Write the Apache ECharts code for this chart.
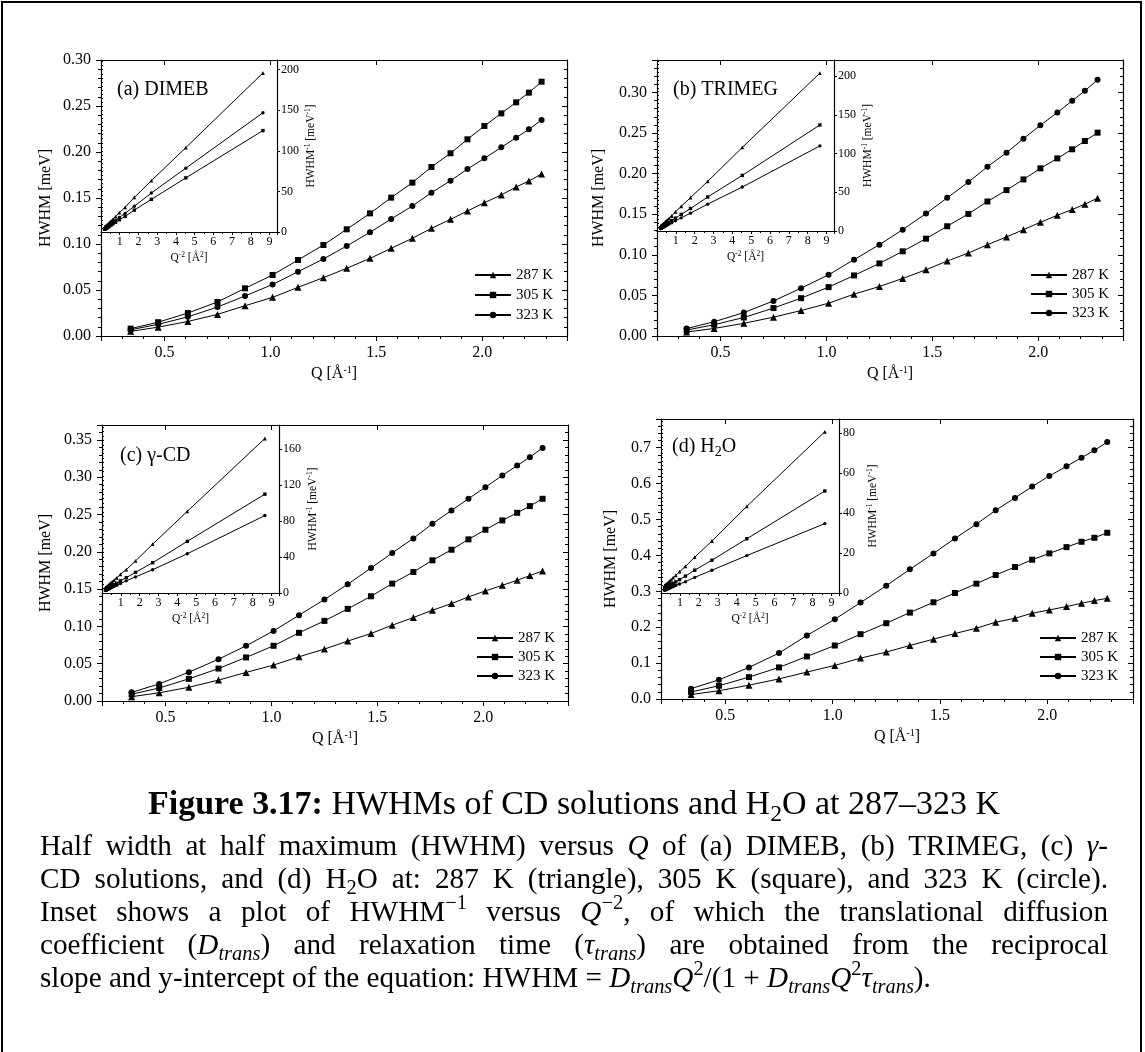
<!DOCTYPE html>
<html><head><meta charset="utf-8">
<script src="https://cdn.jsdelivr.net/npm/echarts@6/dist/echarts.min.js"></script>
<style>html,body{margin:0;padding:0;background:#fff}#c{width:1145px;height:1052px}</style>
</head><body><div id="c"></div>
<script>
// ---------------- DATA ----------------
const Q = [0.34,0.47,0.61,0.75,0.88,1.01,1.13,1.25,1.36,1.47,1.57,1.67,1.76,1.85,1.93,2.01,2.09,2.16,2.22,2.28];
const Q_INV2 = [8.65,4.53,2.69,1.78,1.29,0.98,0.78,0.64,0.54,0.46,0.41,0.36,0.32,0.29,0.27,0.25,0.23,0.21,0.20,0.19];
const SERIES_NAMES = ['287 K','305 K','323 K'];

// (a) DIMEB  HWHM [meV]
const A287 = [0.0051,0.0096,0.0158,0.0235,0.0329,0.0420,0.0529,0.0634,0.0736,0.0844,0.0953,0.1062,0.1170,0.1268,0.1359,0.1449,0.1533,0.1620,0.1685,0.1761];
const A305 = [0.0080,0.0150,0.0249,0.0370,0.0518,0.0663,0.0826,0.0989,0.1160,0.1333,0.1504,0.1667,0.1837,0.1986,0.2138,0.2283,0.2420,0.2540,0.2645,0.2764];
const A323 = [0.0068,0.0127,0.0208,0.0315,0.0435,0.0560,0.0699,0.0837,0.0978,0.1127,0.1272,0.1413,0.1558,0.1688,0.1815,0.1931,0.2051,0.2156,0.2246,0.2348];
// (a) inset HWHM^-1 [meV^-1]
const A287_INV = [196,104,63.3,42.6,30.4,23.8,18.9,15.8,13.6,11.8,10.5,9.42,8.55,7.89,7.36,6.90,6.52,6.17,5.93,5.68];
const A305_INV = [125,66.7,40.2,27.0,19.3,15.1,12.1,10.1,8.62,7.50,6.65,6.00,5.44,5.04,4.68,4.38,4.13,3.94,3.78,3.62];
const A323_INV = [147,78.7,48.1,31.7,23.0,17.9,14.3,11.9,10.2,8.87,7.86,7.08,6.42,5.92,5.51,5.18,4.88,4.64,4.45,4.26];

// (b) TRIMEG
const B287 = [0.0049,0.0093,0.0156,0.0232,0.0313,0.0404,0.0515,0.0610,0.0709,0.0816,0.0923,0.1022,0.1125,0.1220,0.1310,0.1401,0.1487,0.1558,0.1624,0.1698];
const B305 = [0.0073,0.0139,0.0228,0.0344,0.0466,0.0602,0.0746,0.0894,0.1043,0.1199,0.1352,0.1504,0.1657,0.1797,0.1929,0.2065,0.2188,0.2300,0.2402,0.2505];
const B323 = [0.0091,0.0176,0.0288,0.0432,0.0589,0.0754,0.0940,0.1125,0.1310,0.1508,0.1702,0.1896,0.2085,0.2258,0.2431,0.2596,0.2753,0.2897,0.3020,0.3157];
const B287_INV = [204,108,64.1,43.1,31.9,24.8,19.4,16.4,14.1,12.3,10.8,9.78,8.89,8.20,7.63,7.14,6.72,6.42,6.16,5.89];
const B305_INV = [137,71.9,43.9,29.1,21.5,16.6,13.4,11.2,9.59,8.34,7.40,6.65,6.04,5.56,5.18,4.84,4.57,4.35,4.16,3.99];
const B323_INV = [110,56.8,34.7,23.1,17.0,13.3,10.6,8.89,7.63,6.63,5.88,5.27,4.80,4.43,4.11,3.85,3.63,3.45,3.31,3.17];

// (c) gamma-CD
const C287 = [0.0058,0.0110,0.0184,0.0280,0.0383,0.0482,0.0593,0.0696,0.0803,0.0905,0.1016,0.1119,0.1217,0.1306,0.1395,0.1476,0.1551,0.1618,0.1681,0.1743];
const C305 = [0.0091,0.0174,0.0297,0.0435,0.0584,0.0740,0.0914,0.1074,0.1235,0.1404,0.1574,0.1730,0.1886,0.2028,0.2167,0.2296,0.2421,0.2523,0.2613,0.2711];
const C323 = [0.0116,0.0229,0.0386,0.0560,0.0740,0.0940,0.1150,0.1360,0.1565,0.1783,0.1984,0.2180,0.2376,0.2555,0.2711,0.2867,0.3023,0.3157,0.3269,0.3393];
const C287_INV = [172,90.9,54.3,35.7,26.1,20.7,16.9,14.4,12.5,11.0,9.84,8.94,8.22,7.66,7.17,6.78,6.45,6.18,5.95,5.74];
const C305_INV = [110,57.5,33.7,23.0,17.1,13.5,10.9,9.31,8.10,7.12,6.35,5.78,5.30,4.93,4.61,4.36,4.13,3.96,3.83,3.69];
const C323_INV = [86.2,43.7,25.9,17.9,13.5,10.6,8.70,7.35,6.39,5.61,5.04,4.59,4.21,3.91,3.69,3.49,3.31,3.17,3.06,2.95];

// (d) H2O
const D287 = [0.0124,0.0231,0.0385,0.0560,0.0750,0.0935,0.1139,0.1306,0.1491,0.1667,0.1824,0.1972,0.2139,0.2250,0.2389,0.2481,0.2574,0.2667,0.2741,0.2806];
const D305 = [0.0196,0.0369,0.0610,0.0880,0.1185,0.1490,0.1806,0.2111,0.2407,0.2694,0.2954,0.3213,0.3454,0.3676,0.3880,0.4056,0.4231,0.4380,0.4491,0.4630];
const D323 = [0.0288,0.0534,0.0880,0.1280,0.1769,0.2222,0.2685,0.3157,0.3611,0.4056,0.4472,0.4870,0.5259,0.5602,0.5917,0.6213,0.6481,0.6722,0.6926,0.7157];
const D287_INV = [80.6,43.3,26.0,17.9,13.3,10.7,8.78,7.66,6.71,6.00,5.48,5.07,4.68,4.44,4.19,4.03,3.89,3.75,3.65,3.56];
const D305_INV = [51.0,27.1,16.4,11.4,8.44,6.71,5.54,4.74,4.15,3.71,3.39,3.11,2.90,2.72,2.58,2.47,2.36,2.28,2.23,2.16];
const D323_INV = [34.7,18.7,11.4,7.81,5.65,4.50,3.72,3.17,2.77,2.47,2.24,2.05,1.90,1.79,1.69,1.61,1.54,1.49,1.44,1.40];

// text
const PANEL_LABELS = ['(a) DIMEB','(b) TRIMEG','(c) γ-CD','(d) H{sub:2}O'];
const CAPTION_TITLE = '{b:Figure} {b:3.17:} HWHMs of CD solutions and H{sub:2}O at 287–323 K';
const CAPTION_LINES = [
  'Half width at half maximum (HWHM) versus {i:Q} of (a) DIMEB, (b) TRIMEG, (c) {i:γ}-',
  'CD solutions, and (d) H{sub:2}O at: 287 K (triangle), 305 K (square), and 323 K (circle).',
  'Inset shows a plot of HWHM{sup:−1} versus {i:Q}{sup:−2}, of which the translational diffusion',
  'coefficient ({i:D}{isub:trans}) and relaxation time ({i:τ}{isub:trans}) are obtained from the reciprocal',
  'slope and y-intercept of the equation: HWHM = {i:D}{isub:trans}{i:Q}{sup:2}/(1 + {i:D}{isub:trans}{i:Q}{sup:2}{i:τ}{isub:trans}).'
];

// ---------------- LAYOUT ----------------
const FF = '"Liberation Serif", "Times New Roman", serif';
const PANELS = [
  {l:101,t:60,w:466,h:276, yMax:0.30,yMaj:0.05,yMnr:0.01,yDec:2,yGap:47, iw:176,ih:172,iyMax:212,iyMaj:50,iyMnr:5,
   lgL:474,lgT:267,lgGap:4, lbX:117,lbY:90, main:[A287,A305,A323], inset:[A287_INV,A305_INV,A323_INV]},
  {l:657,t:60,w:466,h:276, yMax:0.34,yMaj:0.05,yMnr:0.01,yDec:2,yGap:50, iw:177,ih:171,iyMax:221,iyMaj:50,iyMnr:5,
   lgL:1030,lgT:267,lgGap:3, lbX:673,lbY:90, main:[B287,B305,B323], inset:[B287_INV,B305_INV,B323_INV]},
  {l:102,t:425,w:466,h:276, yMax:0.37,yMaj:0.05,yMnr:0.01,yDec:2,yGap:48, iw:177,ih:168,iyMax:187,iyMaj:40,iyMnr:5,
   lgL:476,lgT:630,lgGap:3, lbX:120,lbY:456, main:[C287,C305,C323], inset:[C287_INV,C305_INV,C323_INV]},
  {l:661,t:419,w:472,h:280, yMax:0.78,yMaj:0.1,yMnr:0.02,yDec:1,yGap:42, iw:178,ih:174,iyMax:87,iyMaj:20,iyMnr:2,
   lgL:1039,lgT:630,lgGap:3, lbX:672,lbY:447, main:[D287,D305,D323], inset:[D287_INV,D305_INV,D323_INV]}
];
const SYM = [['triangle',7,3.8],['rect',6,3.4],['circle',6,3.4]];

// ---------------- helpers ----------------
const isMult = (v,s) => Math.abs(v/s - Math.round(v/s)) < 1e-6;
function ax(o){ return Object.assign({type:'value', silent:true, splitLine:{show:false}, axisLine:{show:false},
  axisTick:{show:false}, axisLabel:{show:false}, minorTick:{show:false}, minorSplitLine:{show:false}}, o); }
const LINE = {show:true, onZero:false, lineStyle:{color:'#000', width:1.2}};
const tick = (len, inside) => ({show:true, inside:inside, length:len, lineStyle:{color:'#000', width:1}});
function addPair(arr, g, pos, min, max, maj, mnr, o){
  const i = arr.length;
  arr.push(ax(Object.assign({gridIndex:g, position:pos, min:min, max:max, minInterval:maj, maxInterval:maj,
    axisLine: o.line===false ? {show:false} : LINE, axisTick: tick(o.majLen, o.inside),
    axisLabel: o.label ? Object.assign({show:true, color:'#000', fontFamily:FF}, o.label) : {show:false}}, o.extra || {})));
  arr.push(ax({gridIndex:g, position:pos, min:min, max:max, interval:mnr, axisTick: tick(o.mnrLen, o.inside)}));
  return i;
}

// text layout
const ctx = document.createElement('canvas').getContext('2d');
function parse(str){
  return str.split(' ').map(w => { const runs=[]; const re=/\{(\w+):([^}]*)\}|([^{]+)/g; let m;
    while((m=re.exec(w))){ if(m[3]!==undefined) runs.push([m[3],'r']); else runs.push([m[2],m[1]]); } return runs; });
}
function runInfo(st,S){
  const small = /sup|sub/.test(st);
  return {size: small ? S*0.7 : S, italic: st[0]==='i', bold: st==='b',
          dy: /sup/.test(st) ? -0.32*S : (/sub/.test(st) ? 0.28*S : 0)};
}
const fontCss = f => (f.italic?'italic ':'') + (f.bold?'bold ':'') + f.size + 'px ' + FF;
function runW(r,S){ ctx.font = fontCss(runInfo(r[1],S)); return ctx.measureText(r[0]).width; }
const tokW = (t,S) => t.reduce((s,r)=>s+runW(r,S),0);
function spaceW(S){ ctx.font = fontCss({size:S}); return ctx.measureText(' ').width; }
const naturalW = (toks,S) => toks.reduce((s,t)=>s+tokW(t,S),0) + spaceW(S)*(toks.length-1);
function placeLine(els, toks, S, y, mode, x0, x1){
  const sum = toks.reduce((s,t)=>s+tokW(t,S),0);
  let gap = spaceW(S), x = x0;
  if(mode==='justify' && toks.length>1) gap = (x1-x0-sum)/(toks.length-1);
  if(mode==='center') x = (x0+x1)/2 - (sum + gap*(toks.length-1))/2;
  toks.forEach(t => { t.forEach(r => { const f = runInfo(r[1],S);
      els.push({type:'text', x:x, y:y+f.dy, silent:true, z:10, style:{text:r[0], fontSize:f.size, fontFamily:FF,
        fontStyle:f.italic?'italic':'normal', fontWeight:f.bold?'bold':'normal', fill:'#000',
        align:'left', verticalAlign:'middle', textAlign:'left', textVerticalAlign:'middle'}});
      x += runW(r,S); }); x += gap; });
}

// ---------------- build ----------------
const grids=[], xAxes=[], yAxes=[], series=[], legends=[], els=[];
const supRich = (fs,lh) => ({sup:{fontSize:fs, fontFamily:FF, color:'#000', verticalAlign:'top', lineHeight:lh}});

PANELS.forEach((P,k) => {
  const gm = grids.length; grids.push({left:P.l, top:P.t, width:P.w, height:P.h, containLabel:false});
  const gi = grids.length; grids.push({left:P.l, top:P.t, width:P.iw, height:P.ih, containLabel:false});
  const xb = addPair(xAxes, gm, 'bottom', 0.2, 2.4, 0.5, 0.1, {inside:false, majLen:5, mnrLen:3,
    label:{fontSize:16, margin:9, formatter: v => isMult(v,0.5) ? v.toFixed(1) : ''},
    extra:{name:'Q [Å{sup|-1}]', nameLocation:'middle', nameGap:29,
      nameTextStyle:{fontFamily:FF, fontSize:16, color:'#000', lineHeight:18, rich:supRich(10,6)}}});
  addPair(xAxes, gm, 'top', 0.2, 2.4, 0.5, 0.1, {inside:true, majLen:5, mnrLen:3});
  const yl = addPair(yAxes, gm, 'left', 0, P.yMax, P.yMaj, P.yMnr, {inside:false, majLen:5, mnrLen:3,
    label:{fontSize:16, margin:10, formatter: v => isMult(v,P.yMaj) ? v.toFixed(P.yDec) : ''},
    extra:{name:'HWHM [meV]', nameLocation:'middle', nameGap:P.yGap,
      nameTextStyle:{fontFamily:FF, fontSize:16, color:'#000'}}});
  addPair(yAxes, gm, 'right', 0, P.yMax, P.yMaj, P.yMnr, {inside:true, majLen:5, mnrLen:3});
  const ixb = addPair(xAxes, gi, 'bottom', 0, 9.4, 1, 0.5, {inside:false, majLen:3, mnrLen:2,
    label:{fontSize:12, margin:4, formatter: v => (v>0 && isMult(v,1)) ? String(Math.round(v)) : ''},
    extra:{name:'Q{sup|-2} [Å{sup|2}]', nameLocation:'middle', nameGap:19,
      nameTextStyle:{fontFamily:FF, fontSize:11.5, color:'#000', lineHeight:13, rich:supRich(7.5,5)}}});
  const iyr = addPair(yAxes, gi, 'right', 0, P.iyMax, P.iyMaj, P.iyMnr, {inside:false, majLen:3, mnrLen:2,
    label:{fontSize:12, margin:4, formatter: v => isMult(v,P.iyMaj) ? String(Math.round(v)) : ''},
    extra:{name:'HWHM{sup|-1} [meV{sup|-1}]', nameLocation:'middle', nameGap:27,
      nameTextStyle:{fontFamily:FF, fontSize:11.5, color:'#000', lineHeight:13, rich:supRich(7.5,5)}}});

  for(let s=0;s<3;s++){
    series.push({type:'line', name:SERIES_NAMES[s], xAxisIndex:xb, yAxisIndex:yl,
      data: Q.map((q,i)=>[q, P.main[s][i]]), symbol:SYM[s][0], symbolSize:SYM[s][1], showSymbol:true,
      lineStyle:{color:'#000', width:1}, itemStyle:{color:'#000'}, emphasis:{disabled:true}, z:3});
    series.push({type:'line', name:SERIES_NAMES[s]+' inset', xAxisIndex:ixb, yAxisIndex:iyr,
      data: Q_INV2.map((x,i)=>[x, P.inset[s][i]]), symbol:SYM[s][0], symbolSize:SYM[s][2], showSymbol:true,
      lineStyle:{color:'#000', width:1}, itemStyle:{color:'#000'}, emphasis:{disabled:true}, z:3});
  }
  legends.push({show:true, selectedMode:false, orient:'vertical', left:P.lgL, top:P.lgT, padding:0,
    itemWidth:36, itemHeight:8, itemGap:P.lgGap, data:SERIES_NAMES.slice(),
    textStyle:{fontFamily:FF, fontSize:15, color:'#000', lineHeight:16}});
  placeLine(els, parse(PANEL_LABELS[k]), 20, P.lbY, 'left', P.lbX, P.lbX);
});

// caption
const S0 = 20;
const titleToks = parse(CAPTION_TITLE);
const lineToks = CAPTION_LINES.map(parse);
const St = S0 * 852 / naturalW(titleToks, S0);
const SbLast = S0 * 827 / naturalW(lineToks[4], S0);
const SbFull = 0.985 * Math.min(...lineToks.slice(0,4).map(t => S0 * 1068 / naturalW(t, S0)));
const Sb = (SbLast + SbFull) / 2;
placeLine(els, titleToks, St, 805, 'center', 148, 1000);
const LY = [847, 880, 913, 946, 979];
lineToks.forEach((t,i) => placeLine(els, t, Sb, LY[i], i<4 ? 'justify' : 'left', 40, 1108));

// frame
els.push({type:'polyline', silent:true, shape:{points:[[2,1052],[2,2],[1141,2],[1141,1052]]},
  style:{stroke:'#000', lineWidth:2, fill:null}});

const chart = echarts.init(document.getElementById('c'), null, {renderer:'canvas', width:1145, height:1052});
chart.setOption({
  backgroundColor:'#fff', animation:false,
  grid:grids, xAxis:xAxes, yAxis:yAxes, series:series, legend:legends,
  graphic:{elements:els}
});
</script></body></html>
